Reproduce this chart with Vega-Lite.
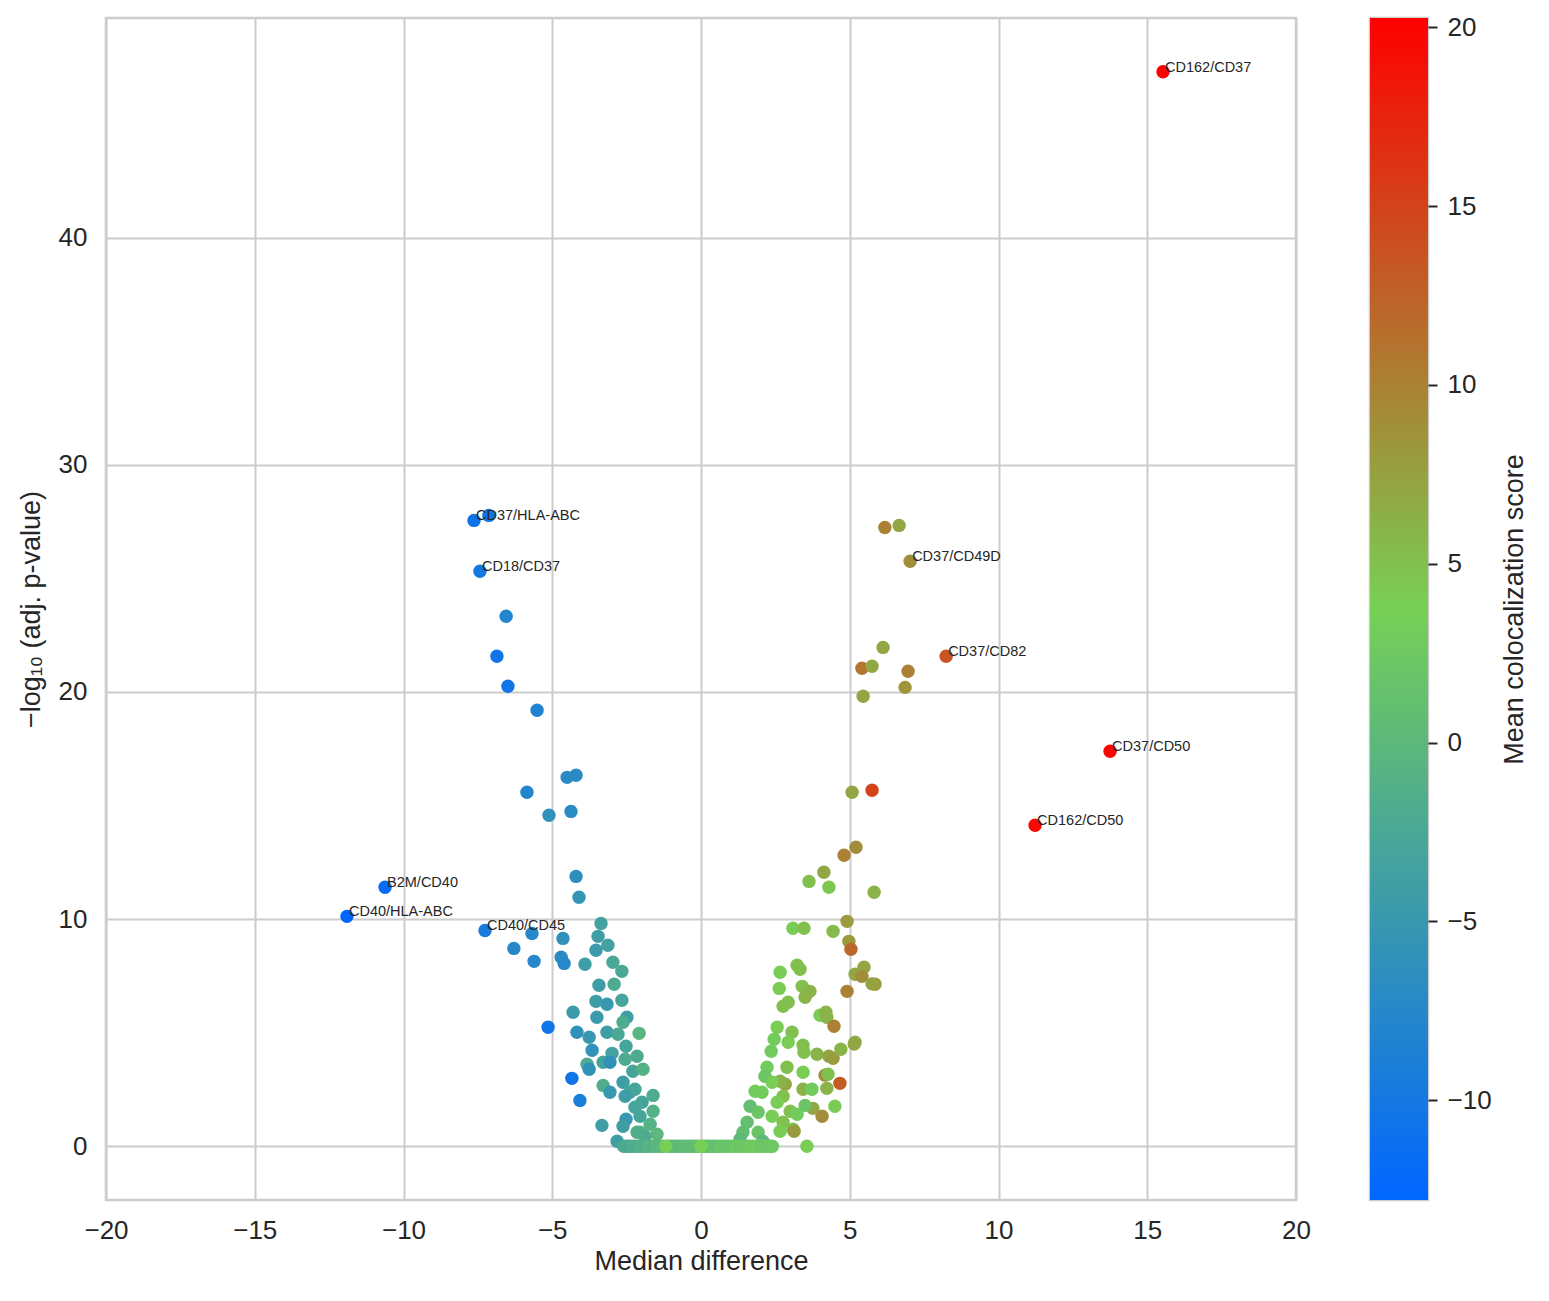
{
  "$schema": "https://vega.github.io/schema/vega-lite/v6.json",
  "autosize": {"type": "none"},
  "padding": {"left": 106, "top": 18, "right": 1443, "bottom": 1283},
  "background": "white",
  "config": {
    "font": "Liberation Sans",
    "view": {"stroke": "#cccccc", "strokeWidth": 2.5},
    "axis": {
      "labelColor": "#262626",
      "titleColor": "#262626",
      "labelFont": "Liberation Sans",
      "titleFont": "Liberation Sans",
      "titleFontWeight": "normal",
      "labelFontSize": 26,
      "titleFontSize": 27,
      "labelFlush": false,
      "labelOverlap": false,
      "gridColor": "#cccccc",
      "gridWidth": 2,
      "domain": false
    }
  },
  "spacing": 56,
  "datasets": {
    "points": [
      {"x": 15.53, "y": 47.3, "c": 20.26, "label": "CD162/CD37"},
      {"x": 13.75, "y": 17.39, "c": 20.0, "label": "CD37/CD50"},
      {"x": 11.23, "y": 14.13, "c": 19.8, "label": "CD162/CD50"},
      {"x": 8.24, "y": 21.57, "c": 13.5, "label": "CD37/CD82"},
      {"x": 7.03, "y": 25.75, "c": 9.0, "label": "CD37/CD49D"},
      {"x": -7.13, "y": 27.77, "c": -10.5},
      {"x": -7.63, "y": 27.55, "c": -10.8, "label": "CD37/HLA-ABC"},
      {"x": -7.43, "y": 25.31, "c": -10.0, "label": "CD18/CD37"},
      {"x": -10.62, "y": 11.4, "c": -12.0, "label": "B2M/CD40"},
      {"x": -11.9, "y": 10.12, "c": -12.79, "label": "CD40/HLA-ABC"},
      {"x": -7.26, "y": 9.5, "c": -9.5, "label": "CD40/CD45"},
      {"x": -6.55, "y": 23.33, "c": -8.0},
      {"x": -6.86, "y": 21.57, "c": -10.5},
      {"x": -6.49, "y": 20.25, "c": -10.5},
      {"x": -5.51, "y": 19.19, "c": -8.5},
      {"x": -4.5, "y": 16.24, "c": -7.0},
      {"x": -4.2, "y": 16.33, "c": -7.0},
      {"x": -5.85, "y": 15.58, "c": -8.0},
      {"x": -4.37, "y": 14.74, "c": -7.0},
      {"x": -5.11, "y": 14.57, "c": -6.0},
      {"x": -4.2, "y": 11.88, "c": -6.5},
      {"x": -4.1, "y": 10.96, "c": -5.5},
      {"x": -5.68, "y": 9.37, "c": -7.5},
      {"x": -6.29, "y": 8.71, "c": -7.5},
      {"x": -5.61, "y": 8.14, "c": -7.5},
      {"x": -4.64, "y": 9.15, "c": -6.0},
      {"x": -4.7, "y": 8.32, "c": -7.0},
      {"x": -4.6, "y": 8.05, "c": -7.5},
      {"x": -3.9, "y": 8.01, "c": -4.0},
      {"x": -3.36, "y": 9.81, "c": -3.5},
      {"x": -3.46, "y": 9.24, "c": -4.0},
      {"x": -3.53, "y": 8.63, "c": -4.5},
      {"x": -3.13, "y": 8.85, "c": -3.5},
      {"x": -2.96, "y": 8.1, "c": -2.5},
      {"x": -2.66, "y": 7.7, "c": -2.5},
      {"x": -3.43, "y": 7.09, "c": -4.0},
      {"x": -2.92, "y": 7.13, "c": -2.0},
      {"x": -3.53, "y": 6.38, "c": -4.0},
      {"x": -3.16, "y": 6.25, "c": -5.0},
      {"x": -2.66, "y": 6.43, "c": -3.0},
      {"x": -4.3, "y": 5.9, "c": -4.5},
      {"x": -3.5, "y": 5.68, "c": -4.5},
      {"x": -2.49, "y": 5.68, "c": -4.0},
      {"x": -2.62, "y": 5.46, "c": -2.0},
      {"x": -5.14, "y": 5.24, "c": -10.5},
      {"x": -4.17, "y": 5.02, "c": -6.0},
      {"x": -3.76, "y": 4.8, "c": -5.0},
      {"x": -3.16, "y": 5.02, "c": -4.0},
      {"x": -2.79, "y": 4.93, "c": -2.5},
      {"x": -2.08, "y": 4.97, "c": -0.5},
      {"x": -3.66, "y": 4.23, "c": -6.0},
      {"x": -2.99, "y": 4.09, "c": -3.5},
      {"x": -2.52, "y": 4.4, "c": -3.0},
      {"x": -2.15, "y": 3.96, "c": -2.0},
      {"x": -2.55, "y": 3.83, "c": -2.0},
      {"x": -3.83, "y": 3.61, "c": -2.0},
      {"x": -3.76, "y": 3.39, "c": -6.0},
      {"x": -3.29, "y": 3.7, "c": -3.0},
      {"x": -3.06, "y": 3.7, "c": -6.0},
      {"x": -2.29, "y": 3.3, "c": -3.0},
      {"x": -1.95, "y": 3.39, "c": -1.0},
      {"x": -4.34, "y": 2.99, "c": -10.5},
      {"x": -4.07, "y": 2.02, "c": -9.0},
      {"x": -3.29, "y": 2.68, "c": -1.5},
      {"x": -3.06, "y": 2.38, "c": -5.0},
      {"x": -2.62, "y": 2.82, "c": -4.0},
      {"x": -1.61, "y": 2.24, "c": -2.0},
      {"x": -2.39, "y": 2.38, "c": -3.0},
      {"x": -2.22, "y": 2.51, "c": -3.0},
      {"x": -2.55, "y": 2.2, "c": -4.0},
      {"x": -2.22, "y": 1.72, "c": -3.0},
      {"x": -1.98, "y": 1.94, "c": -3.0},
      {"x": -1.61, "y": 1.54, "c": -1.0},
      {"x": -2.52, "y": 1.19, "c": -5.0},
      {"x": -3.33, "y": 0.92, "c": -4.0},
      {"x": -2.62, "y": 0.88, "c": -4.0},
      {"x": -1.71, "y": 0.97, "c": -1.0},
      {"x": -2.05, "y": 1.32, "c": -3.0},
      {"x": -2.82, "y": 0.22, "c": -4.0},
      {"x": -2.05, "y": 0.62, "c": -1.0},
      {"x": -2.15, "y": 0.62, "c": -1.5},
      {"x": -1.48, "y": 0.53, "c": 0.0},
      {"x": -1.88, "y": 0.44, "c": -2.0},
      {"x": 6.18, "y": 27.24, "c": 10.0},
      {"x": 6.66, "y": 27.33, "c": 7.0},
      {"x": 6.12, "y": 21.96, "c": 7.0},
      {"x": 5.41, "y": 21.04, "c": 11.0},
      {"x": 5.75, "y": 21.13, "c": 7.0},
      {"x": 6.96, "y": 20.91, "c": 10.0},
      {"x": 6.86, "y": 20.2, "c": 8.5},
      {"x": 5.45, "y": 19.81, "c": 7.0},
      {"x": 5.08, "y": 15.58, "c": 7.0},
      {"x": 5.75, "y": 15.67, "c": 15.0},
      {"x": 5.21, "y": 13.16, "c": 9.0},
      {"x": 4.81, "y": 12.81, "c": 10.0},
      {"x": 4.13, "y": 12.06, "c": 7.0},
      {"x": 3.63, "y": 11.66, "c": 5.0},
      {"x": 4.3, "y": 11.4, "c": 4.5},
      {"x": 5.82, "y": 11.18, "c": 6.0},
      {"x": 4.91, "y": 9.9, "c": 8.0},
      {"x": 3.09, "y": 9.6, "c": 4.0},
      {"x": 3.46, "y": 9.6, "c": 5.0},
      {"x": 4.44, "y": 9.46, "c": 5.5},
      {"x": 4.97, "y": 9.02, "c": 8.0},
      {"x": 5.04, "y": 8.67, "c": 12.0},
      {"x": 5.48, "y": 7.88, "c": 7.0},
      {"x": 5.18, "y": 7.57, "c": 7.0},
      {"x": 5.41, "y": 7.48, "c": 9.0},
      {"x": 5.85, "y": 7.13, "c": 8.0},
      {"x": 5.75, "y": 7.15, "c": 7.5},
      {"x": 4.91, "y": 6.82, "c": 10.0},
      {"x": 2.66, "y": 7.66, "c": 4.0},
      {"x": 3.23, "y": 7.97, "c": 5.0},
      {"x": 3.33, "y": 7.79, "c": 5.0},
      {"x": 2.63, "y": 6.95, "c": 4.0},
      {"x": 3.4, "y": 7.04, "c": 5.0},
      {"x": 3.66, "y": 6.82, "c": 6.0},
      {"x": 3.5, "y": 6.56, "c": 6.0},
      {"x": 2.76, "y": 6.16, "c": 5.0},
      {"x": 2.93, "y": 6.34, "c": 5.0},
      {"x": 4.0, "y": 5.77, "c": 4.0},
      {"x": 4.2, "y": 5.9, "c": 6.0},
      {"x": 4.23, "y": 5.68, "c": 6.0},
      {"x": 4.47, "y": 5.28, "c": 10.0},
      {"x": 2.56, "y": 5.24, "c": 4.0},
      {"x": 3.06, "y": 5.02, "c": 5.0},
      {"x": 2.46, "y": 4.71, "c": 3.0},
      {"x": 2.93, "y": 4.58, "c": 4.0},
      {"x": 2.36, "y": 4.18, "c": 3.0},
      {"x": 3.43, "y": 4.45, "c": 5.0},
      {"x": 3.46, "y": 4.14, "c": 5.0},
      {"x": 3.9, "y": 4.05, "c": 6.0},
      {"x": 4.3, "y": 3.96, "c": 7.0},
      {"x": 4.44, "y": 3.87, "c": 8.0},
      {"x": 4.7, "y": 4.27, "c": 6.0},
      {"x": 5.18, "y": 4.58, "c": 6.0},
      {"x": 5.15, "y": 4.5, "c": 7.0},
      {"x": 2.22, "y": 3.48, "c": 3.0},
      {"x": 2.89, "y": 3.48, "c": 5.0},
      {"x": 3.43, "y": 3.26, "c": 4.0},
      {"x": 2.15, "y": 3.08, "c": 2.0},
      {"x": 4.17, "y": 3.13, "c": 9.0},
      {"x": 4.27, "y": 3.17, "c": 5.0},
      {"x": 4.67, "y": 2.77, "c": 13.0},
      {"x": 2.83, "y": 2.73, "c": 7.0},
      {"x": 2.66, "y": 2.86, "c": 6.0},
      {"x": 2.39, "y": 2.82, "c": 4.0},
      {"x": 3.43, "y": 2.51, "c": 6.0},
      {"x": 3.73, "y": 2.51, "c": 3.0},
      {"x": 4.23, "y": 2.55, "c": 6.0},
      {"x": 1.82, "y": 2.42, "c": 3.0},
      {"x": 2.05, "y": 2.38, "c": 3.0},
      {"x": 2.76, "y": 2.2, "c": 5.0},
      {"x": 4.5, "y": 1.76, "c": 4.0},
      {"x": 3.76, "y": 1.67, "c": 7.0},
      {"x": 3.5, "y": 1.8, "c": 2.0},
      {"x": 4.07, "y": 1.32, "c": 9.0},
      {"x": 2.56, "y": 1.94, "c": 4.0},
      {"x": 3.0, "y": 1.54, "c": 5.0},
      {"x": 3.23, "y": 1.41, "c": 3.0},
      {"x": 1.65, "y": 1.76, "c": 1.0},
      {"x": 1.92, "y": 1.5, "c": 2.0},
      {"x": 2.39, "y": 1.32, "c": 4.0},
      {"x": 2.76, "y": 1.06, "c": 5.0},
      {"x": 3.09, "y": 0.75, "c": 5.0},
      {"x": 3.13, "y": 0.66, "c": 8.0},
      {"x": 1.55, "y": 1.06, "c": 1.0},
      {"x": 1.41, "y": 0.62, "c": 1.0},
      {"x": 1.92, "y": 0.62, "c": 2.0},
      {"x": 2.66, "y": 0.66, "c": 4.0},
      {"x": 1.31, "y": 0.31, "c": 0.0},
      {"x": 2.08, "y": 0.22, "c": 0.0},
      {"x": 3.56, "y": 0.0, "c": 4.0},
      {"x": 2.32, "y": 0.0, "c": 1.0},
      {"x": -2.6, "y": 0.0, "c": -2.5},
      {"x": -2.5, "y": 0.0, "c": -2.0},
      {"x": -2.4, "y": 0.0, "c": -2.5},
      {"x": -2.3, "y": 0.0, "c": -1.5},
      {"x": -2.2, "y": 0.0, "c": -2.0},
      {"x": -2.1, "y": 0.0, "c": -1.5},
      {"x": -2.0, "y": 0.0, "c": -1.0},
      {"x": -1.9, "y": 0.0, "c": -1.5},
      {"x": -1.8, "y": 0.0, "c": -1.0},
      {"x": -1.7, "y": 0.0, "c": -0.5},
      {"x": -1.6, "y": 0.0, "c": -1.0},
      {"x": -1.5, "y": 0.0, "c": 0.0},
      {"x": -1.4, "y": 0.0, "c": -0.5},
      {"x": -1.3, "y": 0.0, "c": 0.0},
      {"x": -1.1, "y": 0.0, "c": 0.0},
      {"x": -1.0, "y": 0.0, "c": 0.5},
      {"x": -0.9, "y": 0.0, "c": 0.0},
      {"x": -0.8, "y": 0.0, "c": 0.5},
      {"x": -0.7, "y": 0.0, "c": 0.0},
      {"x": -0.6, "y": 0.0, "c": 0.5},
      {"x": -0.5, "y": 0.0, "c": 1.0},
      {"x": -0.4, "y": 0.0, "c": 0.5},
      {"x": -0.3, "y": 0.0, "c": 1.0},
      {"x": -0.2, "y": 0.0, "c": 0.5},
      {"x": -0.1, "y": 0.0, "c": 1.0},
      {"x": 0.1, "y": 0.0, "c": 1.0},
      {"x": 0.2, "y": 0.0, "c": 1.5},
      {"x": 0.3, "y": 0.0, "c": 1.0},
      {"x": 0.4, "y": 0.0, "c": 1.5},
      {"x": 0.5, "y": 0.0, "c": 1.0},
      {"x": 0.6, "y": 0.0, "c": 1.5},
      {"x": 0.7, "y": 0.0, "c": 2.0},
      {"x": 0.8, "y": 0.0, "c": 1.5},
      {"x": 0.9, "y": 0.0, "c": 2.0},
      {"x": 1.0, "y": 0.0, "c": 1.5},
      {"x": 1.1, "y": 0.0, "c": 2.0},
      {"x": 1.2, "y": 0.0, "c": 2.5},
      {"x": 1.3, "y": 0.0, "c": 2.0},
      {"x": 1.4, "y": 0.0, "c": 2.5},
      {"x": 1.5, "y": 0.0, "c": 2.0},
      {"x": 1.6, "y": 0.0, "c": 2.5},
      {"x": 1.7, "y": 0.0, "c": 3.0},
      {"x": 1.8, "y": 0.0, "c": 2.5},
      {"x": 1.9, "y": 0.0, "c": 3.0},
      {"x": 2.0, "y": 0.0, "c": 2.0},
      {"x": 2.1, "y": 0.0, "c": 2.5},
      {"x": 2.2, "y": 0.0, "c": 2.0},
      {"x": 2.4, "y": 0.0, "c": 2.5},
      {"x": -1.18, "y": 0.0, "c": 3.8},
      {"x": 0.0, "y": 0.0, "c": 3.8}
    ],
    "bar": [{"lo": -12.79, "hi": 20.26}]
  },
  "hconcat": [
    {
      "width": 1190,
      "height": 1182,
      "data": {"name": "points"},
      "layer": [
        {
          "mark": {"type": "circle", "size": 180, "opacity": 1},
          "encoding": {
            "x": {
              "field": "x",
              "type": "quantitative",
              "scale": {"domain": [-20, 20], "nice": false, "zero": false},
              "axis": {
                "title": "Median difference",
                "values": [-20, -15, -10, -5, 0, 5, 10, 15, 20],
                "ticks": false,
                "labelPadding": 17,
                "titlePadding": 5
              }
            },
            "y": {
              "field": "y",
              "type": "quantitative",
              "scale": {"domain": [-2.365, 49.665], "nice": false, "zero": false},
              "axis": {
                "title": "−log₁₀ (adj. p-value)",
                "values": [0, 10, 20, 30, 40],
                "ticks": false,
                "labelPadding": 19,
                "titlePadding": 13
              }
            },
            "color": {
              "field": "c",
              "type": "quantitative",
              "scale": {
                "domain": [-12.79, 3.735, 20.26],
                "range": ["#0066ff", "#77d055", "#ff0000"],
                "interpolate": "rgb"
              },
              "legend": null
            }
          }
        },
        {
          "transform": [{"filter": "isValid(datum.label)"}],
          "mark": {
            "type": "text",
            "align": "left",
            "baseline": "alphabetic",
            "dx": 2,
            "fontSize": 14.5,
            "color": "#262626"
          },
          "encoding": {
            "x": {"field": "x", "type": "quantitative"},
            "y": {"field": "y", "type": "quantitative"},
            "text": {"field": "label"}
          }
        }
      ]
    },
    {
      "width": 58,
      "height": 1182,
      "data": {"name": "bar"},
      "mark": {
        "type": "rect",
        "color": {
          "gradient": "linear",
          "x1": 0, "y1": 1, "x2": 0, "y2": 0,
          "stops": [
            {"offset": 0, "color": "#0066ff"},
            {"offset": 0.5, "color": "#77d055"},
            {"offset": 1, "color": "#ff0000"}
          ]
        }
      },
      "encoding": {
        "y": {
          "field": "lo",
          "type": "quantitative",
          "scale": {"domain": [-12.79, 20.26], "nice": false, "zero": false},
          "axis": {
            "orient": "right",
            "title": "Mean colocalization score",
            "values": [-10, -5, 0, 5, 10, 15, 20],
            "grid": false,
            "ticks": true,
            "tickSize": 9,
            "tickWidth": 2,
            "tickColor": "#262626",
            "labelPadding": 10,
            "titleAngle": -90,
            "titleBaseline": "top",
            "titlePadding": 10
          }
        },
        "y2": {"field": "hi"}
      }
    }
  ]
}
